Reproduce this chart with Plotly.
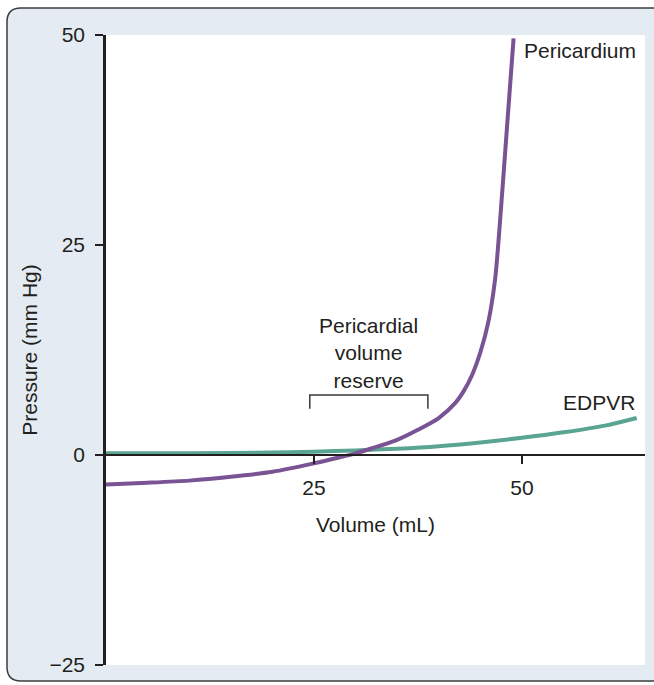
import plotly.graph_objects as go

# Pericardial pressure-volume relation (mL, mm Hg)
peri_volume = [0, 5, 10, 15, 20, 25, 28, 30, 32, 35, 37.5, 40, 42, 43, 44, 45, 46, 46.8, 47.4, 48.2, 49.0]
peri_pressure = [-3.5, -3.3, -3.05, -2.6, -2.0, -1.0, -0.3, 0.2, 0.8, 1.8, 3.0, 4.4, 6.2, 7.6, 9.5, 12.2, 16.0, 21.1, 28.2, 38.9, 49.6]

# End-diastolic pressure-volume relation
edpvr_volume = [0, 10, 20, 25, 30, 35, 40, 45, 50, 55, 60, 63.8]
edpvr_pressure = [0.2, 0.22, 0.3, 0.4, 0.55, 0.75, 1.05, 1.5, 2.05, 2.7, 3.5, 4.4]

# Bracket marking the pericardial volume reserve
reserve_volume = [24.5, 24.5, 38.7, 38.7]
reserve_pressure = [5.5, 7.15, 7.15, 5.5]

x_ticks = [25, 50]
x_tick_text = ["25", "50"]
y_ticks = [-25, 0, 25, 50]
y_tick_text = ["\u221225", "0", "25", "50"]

W, H = 654, 685
L, R, T, B = 106, 9, 35, 18
PW, PH = W - L - R, H - T - B

PURPLE = "#7a5394"
TEAL = "#5aa592"
INK = "#231f20"
PANEL = "#e4ebf2"
FONT = "Liberation Sans, Arial, sans-serif"
FS = 21


def px_x(p):
    return (p - L) / PW


def px_y(p):
    return (H - B - p) / PH


fig = go.Figure()

fig.add_trace(go.Scatter(x=edpvr_volume, y=edpvr_pressure, mode="lines",
                         line=dict(color=TEAL, width=4, shape="spline", smoothing=0.8),
                         hoverinfo="skip"))
fig.add_trace(go.Scatter(x=peri_volume, y=peri_pressure, mode="lines",
                         line=dict(color=PURPLE, width=4, shape="spline", smoothing=0.7),
                         hoverinfo="skip"))
fig.add_trace(go.Scatter(x=reserve_volume, y=reserve_pressure, mode="lines",
                         line=dict(color="#3a3a3a", width=1.5), hoverinfo="skip"))

# rounded panel behind the chart
x0, x1 = px_x(7), px_x(680)
y0, y1 = px_y(683), px_y(8)
rx, ry = 14 / PW, 14 / PH
panel_path = (
    f"M {x0 + rx},{y1} L {x1},{y1} L {x1},{y0} L {x0 + rx},{y0} "
    f"Q {x0},{y0} {x0},{y0 + ry} L {x0},{y1 - ry} Q {x0},{y1} {x0 + rx},{y1} Z"
)
shapes = [
    dict(type="path", path=panel_path, xref="paper", yref="paper",
         fillcolor=PANEL, line=dict(color="#3c3c3c", width=1.5), layer="below"),
    dict(type="rect", xref="paper", yref="paper", x0=0, x1=1, y0=0, y1=1,
         fillcolor="white", line=dict(width=0), layer="below"),
]

annotations = [
    dict(x=50.0, y=48.2, text="Pericardium", showarrow=False, xanchor="left",
         yanchor="middle", font=dict(size=FS, color=INK, family=FONT)),
    dict(x=59.3, y=6.2, text="EDPVR", showarrow=False, xanchor="center",
         yanchor="middle", font=dict(size=FS, color=INK, family=FONT)),
    dict(x=31.6, y=12.1, text="Pericardial<br>volume<br>reserve", showarrow=False,
         xanchor="center", yanchor="middle", align="center",
         font=dict(size=FS, color=INK, family=FONT)),
]

fig.update_layout(
    width=W, height=H,
    margin=dict(l=L, r=R, t=T, b=B),
    paper_bgcolor="white",
    plot_bgcolor="white",
    showlegend=False,
    shapes=shapes,
    annotations=annotations,
    font=dict(family=FONT, size=FS, color=INK),
    xaxis=dict(
        range=[0, 64.8], anchor="free", position=1 / 3,
        showline=True, linecolor=INK, linewidth=2,
        ticks="outside", ticklen=8, tickwidth=1.5, tickcolor=INK,
        tickvals=x_ticks, ticktext=x_tick_text, ticklabelstandoff=6,
        showgrid=False, zeroline=False,
        title=dict(text="Volume (mL)", standoff=18, font=dict(size=FS, color=INK)),
        tickfont=dict(size=FS, color=INK),
    ),
    yaxis=dict(
        range=[-25, 50], showline=True, linecolor=INK, linewidth=2.5,
        ticks="outside", ticklen=8, tickwidth=1.5, tickcolor=INK,
        tickvals=y_ticks, ticktext=y_tick_text, ticklabelstandoff=6,
        showgrid=False, zeroline=False,
        title=dict(text="Pressure (mm Hg)", standoff=7, font=dict(size=FS, color=INK)),
        tickfont=dict(size=FS, color=INK),
    ),
)

fig.write_html("out.html")
